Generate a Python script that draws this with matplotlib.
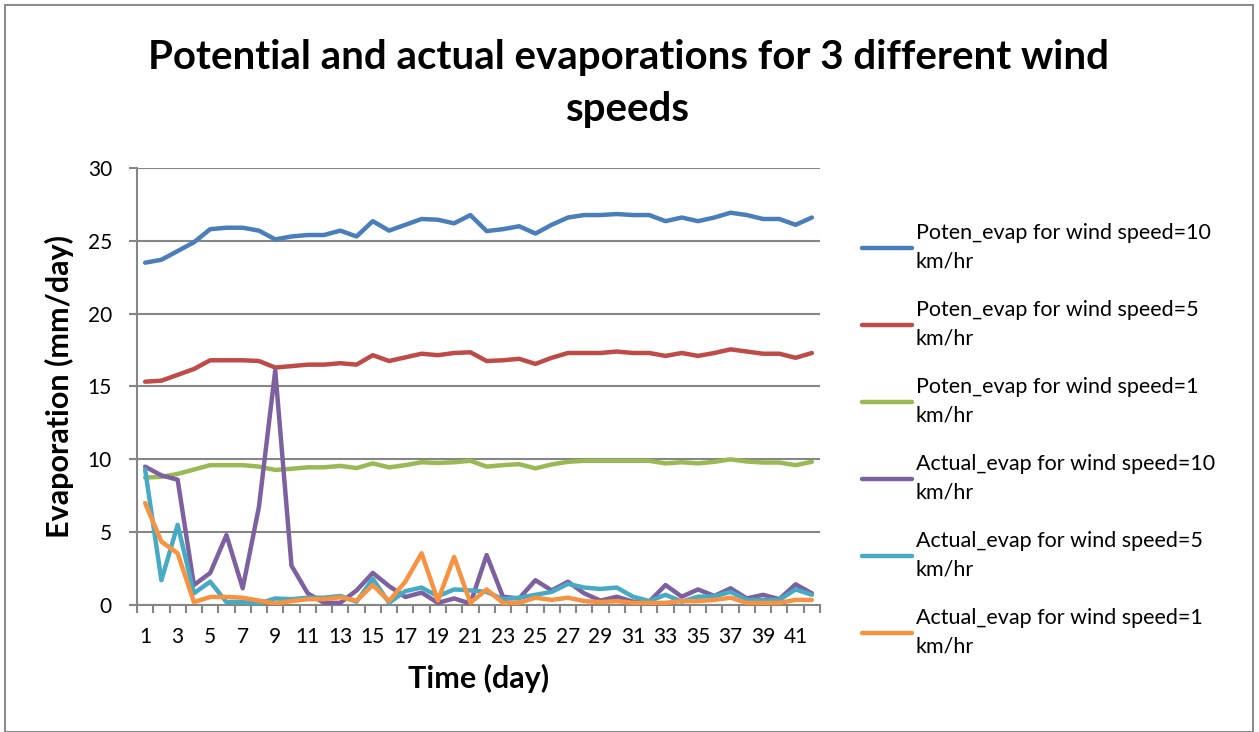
import matplotlib
matplotlib.use("Agg")
import matplotlib.pyplot as plt
from matplotlib.patches import Rectangle
from matplotlib.ticker import FixedLocator, NullFormatter

plt.rcParams['font.family'] = ['Lato', 'DejaVu Sans']

days = list(range(1, 43))

poten_10 = [23.5, 23.7, 24.3, 24.9, 25.8, 25.9, 25.9, 25.7, 25.1, 25.3, 25.4, 25.4, 25.7, 25.3,
            26.35, 25.7, 26.1, 26.5, 26.45, 26.2, 26.77, 25.67, 25.8, 26.0, 25.5, 26.1, 26.6, 26.77,
            26.77, 26.84, 26.77, 26.77, 26.35, 26.6, 26.35, 26.6, 26.93, 26.77, 26.5, 26.5, 26.1, 26.6]
poten_5 = [15.33, 15.4, 15.8, 16.2, 16.8, 16.8, 16.8, 16.75, 16.3, 16.4, 16.5, 16.5, 16.6, 16.5,
           17.15, 16.75, 17.0, 17.25, 17.15, 17.3, 17.35, 16.75, 16.8, 16.9, 16.55, 16.97, 17.3, 17.3,
           17.3, 17.4, 17.3, 17.3, 17.1, 17.3, 17.1, 17.3, 17.55, 17.4, 17.25, 17.25, 16.97, 17.3]
poten_1 = [8.75, 8.8, 9.0, 9.3, 9.6, 9.6, 9.6, 9.5, 9.27, 9.35, 9.45, 9.45, 9.55, 9.4,
           9.72, 9.45, 9.6, 9.8, 9.75, 9.8, 9.9, 9.5, 9.6, 9.67, 9.38, 9.65, 9.83, 9.9,
           9.9, 9.9, 9.9, 9.9, 9.72, 9.8, 9.72, 9.83, 10.0, 9.85, 9.78, 9.78, 9.6, 9.83]
actual_10 = [9.5, 8.9, 8.6, 1.37, 2.2, 4.8, 1.15, 6.75, 16.1, 2.7, 0.8, 0.15, 0.15, 1.0,
             2.2, 1.3, 0.55, 0.85, 0.15, 0.45, 0.1, 3.43, 0.57, 0.45, 1.7, 1.0, 1.6, 0.8,
             0.3, 0.57, 0.23, 0.23, 1.37, 0.57, 1.07, 0.62, 1.15, 0.45, 0.7, 0.4, 1.42, 0.8]
actual_5 = [9.3, 1.7, 5.5, 0.8, 1.6, 0.2, 0.2, 0.1, 0.45, 0.4, 0.5, 0.5, 0.62, 0.23,
            1.8, 0.15, 0.95, 1.2, 0.6, 1.07, 1.0, 0.9, 0.4, 0.5, 0.7, 0.9, 1.45, 1.2,
            1.1, 1.2, 0.57, 0.27, 0.7, 0.23, 0.57, 0.6, 0.9, 0.35, 0.35, 0.35, 1.07, 0.7]
actual_1 = [7.0, 4.35, 3.55, 0.2, 0.55, 0.55, 0.5, 0.3, 0.1, 0.27, 0.4, 0.4, 0.53, 0.3,
            1.37, 0.27, 1.6, 3.55, 0.3, 3.3, 0.15, 1.07, 0.15, 0.15, 0.5, 0.35, 0.5, 0.27,
            0.2, 0.27, 0.15, 0.15, 0.15, 0.27, 0.27, 0.35, 0.5, 0.15, 0.15, 0.15, 0.35, 0.35]

series = [
    (poten_10, "Poten_evap for wind speed=10\nkm/hr", "#4A7EBB"),
    (poten_5, "Poten_evap for wind speed=5\nkm/hr", "#BE4B48"),
    (poten_1, "Poten_evap for wind speed=1\nkm/hr", "#98B954"),
    (actual_10, "Actual_evap for wind speed=10\nkm/hr", "#7D60A0"),
    (actual_5, "Actual_evap for wind speed=5\nkm/hr", "#46AAC5"),
    (actual_1, "Actual_evap for wind speed=1\nkm/hr", "#F69240"),
]

W, H = 1259, 732
fig = plt.figure(figsize=(W / 100, H / 100), dpi=100)
fig.patches.append(Rectangle((5 / W, 0), (1253 - 5) / W, 727 / H, transform=fig.transFigure,
                             fill=False, edgecolor="#8C8C8C", linewidth=1.5))

ax = fig.add_axes([137 / W, 1 - 605 / H, (820 - 137) / W, (605 - 168) / H])

for vals, lab, col in series:
    ax.plot(days, vals, color=col, linewidth=3.2, label=lab, solid_joinstyle='round',
            solid_capstyle='round', zorder=3)

gray = "#868686"
ax.set_xlim(0.5, 42.5)
ax.set_ylim(0, 30)
ax.set_yticks([0, 5, 10, 15, 20, 25, 30])
ax.yaxis.grid(True, color=gray, linewidth=1.5)
ax.set_axisbelow(True)
for s in ["top", "right"]:
    ax.spines[s].set_visible(False)
for s in ["left", "bottom"]:
    ax.spines[s].set_color(gray)
    ax.spines[s].set_linewidth(1.5)

ax.set_xticks(list(range(1, 43, 2)))
ax.set_xticklabels([str(d) for d in range(1, 43, 2)])
ax.xaxis.set_minor_locator(FixedLocator([i + 0.5 for i in range(0, 43)]))
ax.xaxis.set_minor_formatter(NullFormatter())
ax.tick_params(axis="x", which="major", length=0, pad=16, labelsize=15, colors="#000000")
ax.tick_params(axis="x", which="minor", length=6, width=1.5, color=gray, direction="out")
ax.tick_params(axis="y", which="major", length=6, width=1.5, color=gray, pad=12, labelsize=15)

ax.set_ylabel("Evaporation (mm/day)", fontsize=22, fontweight="bold", labelpad=10)
ax.set_xlabel("Time (day)", fontsize=22, fontweight="bold", labelpad=12)

fig.text(628 / W, 1 - 84 / H, "Potential and actual evaporations for 3 different wind\nspeeds",
         ha="center", va="center", fontsize=29, fontweight="bold", linespacing=1.5)

leg = ax.legend(loc="upper left", bbox_to_anchor=(851 / W, 1 - 212 / H),
                bbox_transform=fig.transFigure, frameon=False, fontsize=15.5,
                handlelength=2.35, handletextpad=0.15, labelspacing=1.31, borderpad=0)
for t in leg.get_texts():
    t.set_linespacing(1.55)

fig.savefig("out.png", dpi=100)
